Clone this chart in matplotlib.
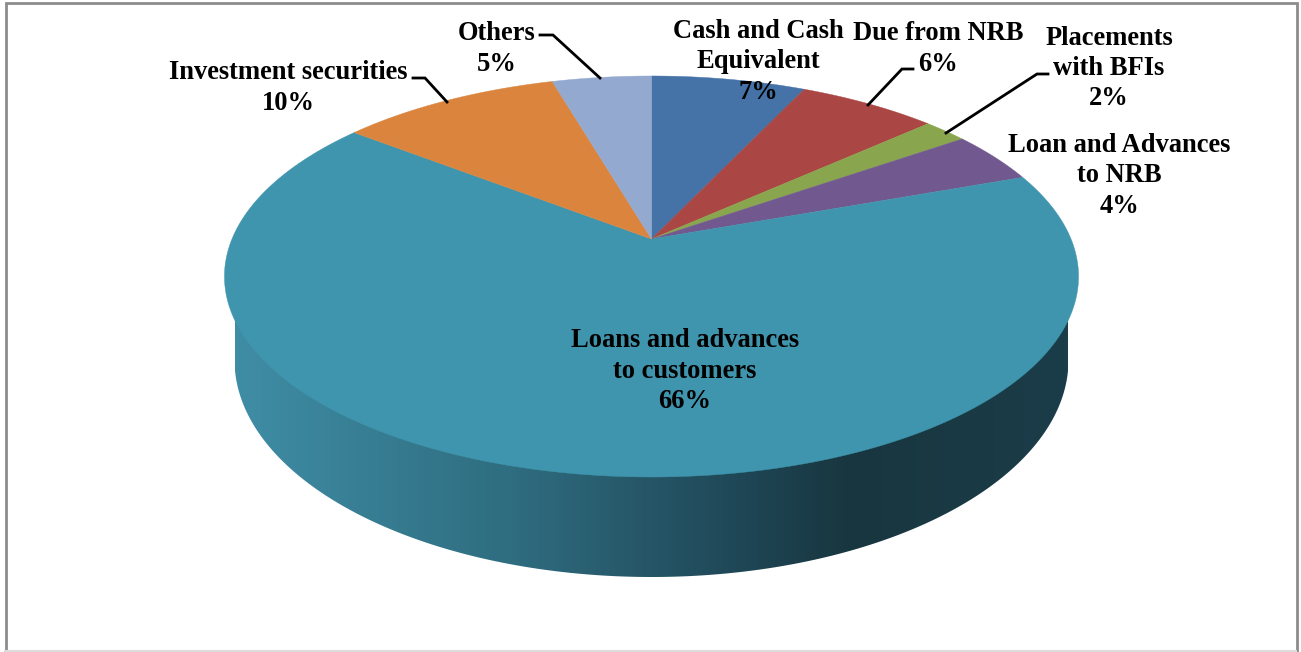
import numpy as np
import matplotlib
matplotlib.use("Agg")
import matplotlib.pyplot as plt
from matplotlib.colors import LinearSegmentedColormap
from matplotlib.patches import Polygon, Rectangle

categories = ["Cash and Cash\nEquivalent", "Due from NRB", "Placements\nwith BFIs",
              "Loan and Advances\nto NRB", "Loans and advances\nto customers",
              "Investment securities", "Others"]
values = [7.0, 6.3, 2.0, 4.2, 66.0, 10.0, 4.5]
percent_labels = ["7%", "6%", "2%", "4%", "66%", "10%", "5%"]
colors = ["#4572A7", "#AA4643", "#89A54E", "#71588F", "#3F95AD", "#DB843D", "#93A9CF"]

W, H = 1301, 652
fig = plt.figure(figsize=(W / 100, H / 100), dpi=100, facecolor="white")
ax = fig.add_axes([0, 0, 1, 1])
ax.set_xlim(0, W)
ax.set_ylim(H, 0)
ax.axis("off")

# perspective view of the circular pie top
CX, CY, A, B, K = 651.5, 239.0, 419.5, 148.8, 0.187


def project(theta_deg):
    t = np.radians(theta_deg)
    u, v = np.sin(t), np.cos(t)
    d = 1 + K * v
    return CX + A * u / d, (CY - B * v) / d


# chart frame
ax.add_patch(Rectangle((5.5, 2.5), 1291, 648.5, fc="white", ec="#8c8c8c", lw=2.0, zorder=0))
ax.plot([5, 1296], [651, 651], color="#dcdcdc", lw=1.5, zorder=0.5)

# side of the pie: shaded band of the large slice
BX, BY, BA, BB = 651.5, 360.0, 417.0, 217.0
t = np.linspace(np.pi, 0, 300)
side = np.column_stack([BX + BA * np.cos(t), BY + BB * np.sin(t)])
hull = np.vstack([[[224.5, 283]], side, [[1078.5, 283]]])
clip = Polygon(hull, closed=True, fc="none", ec="none", transform=ax.transData)
ax.add_patch(clip)
shade = LinearSegmentedColormap.from_list(
    "side", [(0.0, "#3F8DA5"), (0.33, "#2F6D80"), (0.62, "#1E4554"),
             (0.74, "#18363F"), (1.0, "#1B3D49")])
img = ax.imshow(np.linspace(0, 1, 600).reshape(1, -1), cmap=shade, aspect="auto",
                extent=(235, 1068, 580, 270), zorder=1, interpolation="bilinear")
img.set_clip_path(clip)
ax.set_xlim(0, W)
ax.set_ylim(H, 0)

# pie top
start = 0.0
total = sum(values)
for val, col in zip(values, colors):
    sweep = val / total * 360
    th = np.linspace(start, start + sweep, max(int(sweep * 4), 8))
    x, y = project(th)
    pts = np.column_stack([np.r_[CX, x], np.r_[CY, y]])
    ax.add_patch(Polygon(pts, closed=True, fc=col, ec=col, lw=0.3, zorder=2))
    start += sweep

# leader lines
leaders = [
    [(540, 35), (553, 35), (600, 78)],
    [(413, 78), (425, 78), (447, 102)],
    [(913, 69), (902, 69), (868, 105)],
    [(1048, 74), (1037, 74), (946, 133)],
]
for seg in leaders:
    xs, ys = zip(*seg)
    ax.plot(xs, ys, color="black", lw=2.0, zorder=3, solid_joinstyle="miter")

# data labels
label_pos = [(758, 62), (938, 49), (1109, 68.5), (1119, 176), (685, 371), (288, 88), (497, 49)]
for cat, pct, (lx, ly) in zip(categories, percent_labels, label_pos):
    ax.text(lx, ly, f"{cat}\n{pct}", ha="center", va="center", multialignment="center",
            fontfamily="Liberation Serif", fontweight="bold", fontsize=19.1,
            linespacing=1.285, color="black", zorder=4)

fig.savefig("out.png", dpi=100, facecolor="white")
